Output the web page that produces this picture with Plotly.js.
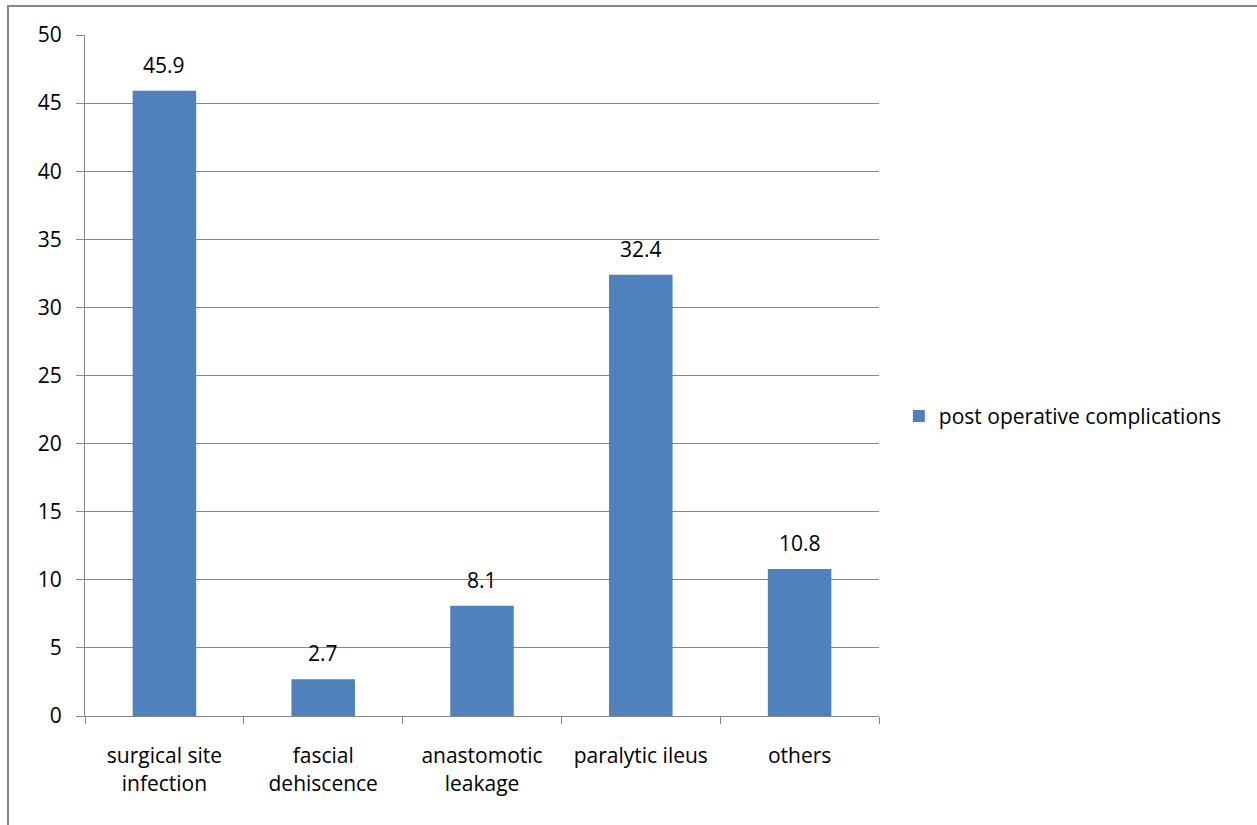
<!DOCTYPE html>
<html>
<head>
<meta charset="utf-8">
<script src="https://cdn.plot.ly/plotly-3.0.1.min.js"></script>
<style>html,body{margin:0;padding:0;background:#fff;}#chart{width:1257px;height:825px;}</style>
</head>
<body>
<div id="chart"></div>
<script>
const categories = ["surgical site<br>infection", "fascial<br>dehiscence", "anastomotic<br>leakage", "paralytic ileus", "others"];
const values = [45.9, 2.7, 8.1, 32.4, 10.8];
const valueLabels = ["45.9", "2.7", "8.1", "32.4", "10.8"];
const seriesName = "post operative complications";
const yTicks = [0, 5, 10, 15, 20, 25, 30, 35, 40, 45, 50];

const FONT = "'Open Sans', sans-serif";
const FS = 21;
const GRAY = "#868686";

const trace = {
  type: "bar",
  x: categories,
  y: values,
  name: seriesName,
  marker: {color: "#4F81BD"},
  showlegend: true
};

const annotations = categories.map((c, i) => ({
  x: c, y: values[i], xref: "x", yref: "y",
  text: valueLabels[i], showarrow: false,
  yanchor: "bottom", yshift: 10,
  font: {size: FS, family: FONT, color: "#000"}
}));

const layout = {
  width: 1257, height: 825,
  margin: {l: 85, r: 378, t: 35, b: 109},
  paper_bgcolor: "#fff", plot_bgcolor: "#fff",
  font: {family: FONT, size: FS, color: "#000"},
  bargap: 0.6,
  xaxis: {
    type: "category",
    showline: true, linecolor: GRAY, linewidth: 1,
    ticks: "outside", tickson: "boundaries", ticklen: 7, tickcolor: GRAY,
    showgrid: false,
    tickfont: {size: FS, family: FONT, color: "#000"},
    ticklabelstandoff: 21
  },
  yaxis: {
    range: [0, 50], tickvals: yTicks, ticktext: yTicks.map(String),
    showline: true, linecolor: GRAY, linewidth: 1,
    ticks: "outside", ticklen: 8, tickcolor: GRAY,
    showgrid: true, gridcolor: GRAY, gridwidth: 1,
    zeroline: false,
    tickfont: {size: FS, family: FONT, color: "#000"},
    ticklabelstandoff: 10
  },
  legend: {
    x: 1.025, y: 0.44, xanchor: "left", yanchor: "middle",
    font: {size: FS, family: FONT, color: "#000"},
    itemwidth: 30
  },
  annotations: annotations,
  shapes: [{
    type: "rect", xref: "paper", yref: "paper",
    x0: (8 - 85) / 794, x1: 1.6, y0: -0.3, y1: (716 - 6) / 681,
    line: {color: GRAY, width: 2}, fillcolor: "rgba(0,0,0,0)", layer: "below"
  }]
};

Plotly.newPlot("chart", [trace], layout, {displayModeBar: false, staticPlot: true});
</script>
</body>
</html>
